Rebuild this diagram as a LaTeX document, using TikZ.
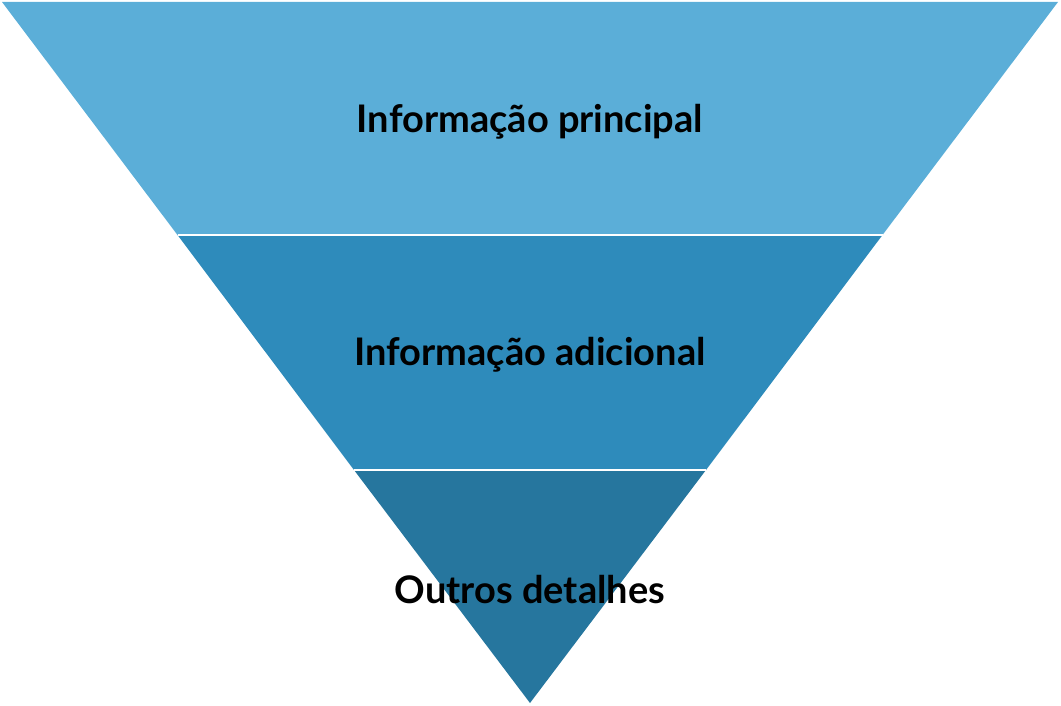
\documentclass[tikz,border=0pt]{standalone}
\usepackage{fontspec}
\setmainfont{Lato}
\definecolor{cA}{HTML}{5BAED8}
\definecolor{cB}{HTML}{2E8BBB}
\definecolor{cC}{HTML}{26769E}
\begin{document}
\begin{tikzpicture}[x=1pt,y=-1pt,lab/.style={font=\fontsize{38}{44}\selectfont\bfseries,text=black}]
\useasboundingbox (0,0) rectangle (1061,706);
\coordinate (tl) at (2,2);
\coordinate (tr) at (1058,2);
\coordinate (ap) at (530,703);
\coordinate (l1) at (177.5,235);
\coordinate (r1) at (882.5,235);
\coordinate (l2) at (354,470);
\coordinate (r2) at (706,470);
\fill[cA] (tl) -- (tr) -- (r1) -- (l1) -- cycle;
\fill[cB] (l1) -- (r1) -- (r2) -- (l2) -- cycle;
\fill[cC] (l2) -- (r2) -- (ap) -- cycle;
\draw[white,line width=2] (l1) -- (r1);
\draw[white,line width=2] (l2) -- (r2);
\node[lab] (t1) at (530,122) {Informação principal};
\node[lab] (t2) at (530,355) {Informação adicional};
\node[lab] (t3) at (530,590) {Outros detalhes};
\end{tikzpicture}
\end{document}
